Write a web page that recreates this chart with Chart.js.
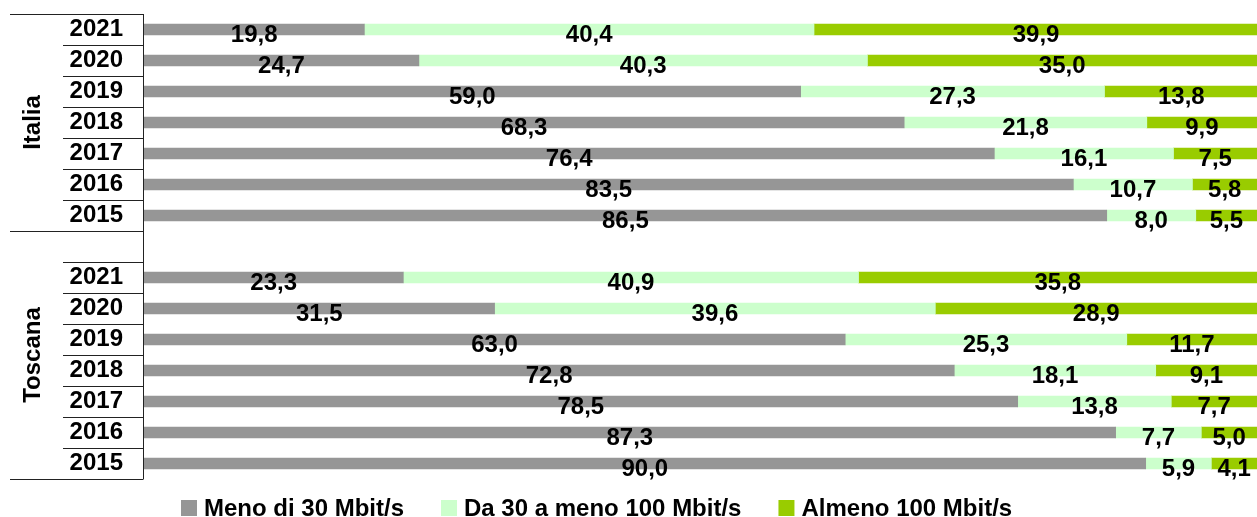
<!DOCTYPE html>
<html lang="it">
<head>
  <meta charset="UTF-8" />
  <title>Connessioni a banda larga - Italia e Toscana</title>
  <script src="https://cdn.jsdelivr.net/npm/chart.js"></script>
  <style>
    body { margin: 0; background: #fff; }
    #wrap { width: 1257px; height: 517px; position: relative; }
  </style>
</head>
<body>

<div id="wrap"><canvas id="bandaChart"></canvas></div>

<script>
  // Dati (percentuali)
  const anni = ['2021', '2020', '2019', '2018', '2017', '2016', '2015'];
  const gruppi = ['Italia', 'Toscana'];
  const serie = ['Meno di 30 Mbit/s', 'Da 30 a meno 100 Mbit/s', 'Almeno 100 Mbit/s'];
  const colori = ['#969696', '#ccffcc', '#99cc00'];

  const italiaMeno30  = [19.8, 24.7, 59.0, 68.3, 76.4, 83.5, 86.5];
  const italia30a100  = [40.4, 40.3, 27.3, 21.8, 16.1, 10.7, 8.0];
  const italiaAlmeno100 = [39.9, 35.0, 13.8, 9.9, 7.5, 5.8, 5.5];

  const toscanaMeno30  = [23.3, 31.5, 63.0, 72.8, 78.5, 87.3, 90.0];
  const toscana30a100  = [40.9, 39.6, 25.3, 18.1, 13.8, 7.7, 5.9];
  const toscanaAlmeno100 = [35.8, 28.9, 11.7, 9.1, 7.7, 5.0, 4.1];

  // riga vuota tra i due gruppi
  const etichette = [...anni, '', ...anni];
  const unisci = (a, b) => [...a, null, ...b];
  const valori = [
    unisci(italiaMeno30, toscanaMeno30),
    unisci(italia30a100, toscana30a100),
    unisci(italiaAlmeno100, toscanaAlmeno100)
  ];

  const FONT = '"Liberation Sans", Arial, sans-serif';
  Chart.defaults.font.family = FONT;
  Chart.defaults.color = '#000';

  // Etichette valori, tabella anni, gruppi e legenda
  const decorazioni = {
    id: 'decorazioni',
    afterDatasetsDraw(chart) {
      const ctx = chart.ctx;
      ctx.save();
      ctx.font = 'bold 24px ' + FONT;
      ctx.fillStyle = '#000';
      ctx.textAlign = 'center';
      ctx.textBaseline = 'alphabetic';
      chart.data.datasets.forEach((ds, i) => {
        chart.getDatasetMeta(i).data.forEach((el, j) => {
          const v = ds.data[j];
          if (v == null) return;
          const x = (el.x + el.base) / 2;
          ctx.fillText(v.toFixed(1).replace('.', ','), x, el.y + 12.5);
        });
      });
      ctx.restore();
    },
    afterDraw(chart) {
      const ctx = chart.ctx;
      const area = chart.chartArea;
      const n = etichette.length;
      const h = (area.bottom - area.top) / n;
      const xAsse = area.left - 0.5;
      ctx.save();
      ctx.strokeStyle = '#222';
      ctx.lineWidth = 1;
      ctx.beginPath();
      ctx.moveTo(xAsse, area.top);
      ctx.lineTo(xAsse, area.bottom);
      for (let k = 0; k <= n; k++) {
        const y = Math.round(area.top + k * h) + 0.5;
        const pieno = k === 0 || k === anni.length || k === n;
        ctx.moveTo(pieno ? 10 : 63, y);
        ctx.lineTo(xAsse, y);
      }
      ctx.stroke();

      // nomi dei gruppi ruotati
      ctx.font = 'bold 24px ' + FONT;
      ctx.fillStyle = '#000';
      ctx.textAlign = 'center';
      ctx.textBaseline = 'middle';
      const centri = [
        area.top + anni.length * h / 2,
        area.top + anni.length * h + (n - anni.length) * h / 2
      ];
      gruppi.forEach((g, i) => {
        ctx.save();
        ctx.translate(33, centri[i]);
        ctx.rotate(-Math.PI / 2);
        ctx.fillText(g, 0, 0);
        ctx.restore();
      });

      // legenda
      let x = 181;
      ctx.textAlign = 'left';
      ctx.textBaseline = 'alphabetic';
      serie.forEach((s, i) => {
        ctx.fillStyle = colori[i];
        ctx.fillRect(x, 500, 16, 16);
        ctx.fillStyle = '#000';
        ctx.fillText(s, x + 23, 516);
        x += 23 + ctx.measureText(s).width + 37;
      });
      ctx.restore();
    }
  };

  const ctx = document.getElementById('bandaChart').getContext('2d');
  const bandaChart = new Chart(ctx, {
    type: 'bar',
    data: {
      labels: etichette,
      datasets: serie.map((s, i) => ({
        label: s,
        data: valori[i],
        backgroundColor: colori[i],
        borderWidth: 0,
        barThickness: 11
      }))
    },
    options: {
      indexAxis: 'y',
      responsive: true,
      maintainAspectRatio: false,
      animation: false,
      layout: { padding: { top: 14, bottom: 38, left: 0, right: 0 } },
      plugins: {
        legend: { display: false },
        tooltip: { enabled: false }
      },
      scales: {
        x: {
          stacked: true,
          min: 0,
          max: 100,
          display: false
        },
        y: {
          stacked: true,
          border: { display: false },
          grid: { display: false, drawTicks: false },
          ticks: {
            padding: 21,
            autoSkip: false,
            color: '#000',
            font: { size: 24, weight: 'bold' }
          },
          afterFit(scale) {
            scale.width = 144;
            scale.paddingTop = 0;
            scale.paddingBottom = 0;
          }
        }
      }
    },
    plugins: [decorazioni]
  });
</script>

</body>
</html>
